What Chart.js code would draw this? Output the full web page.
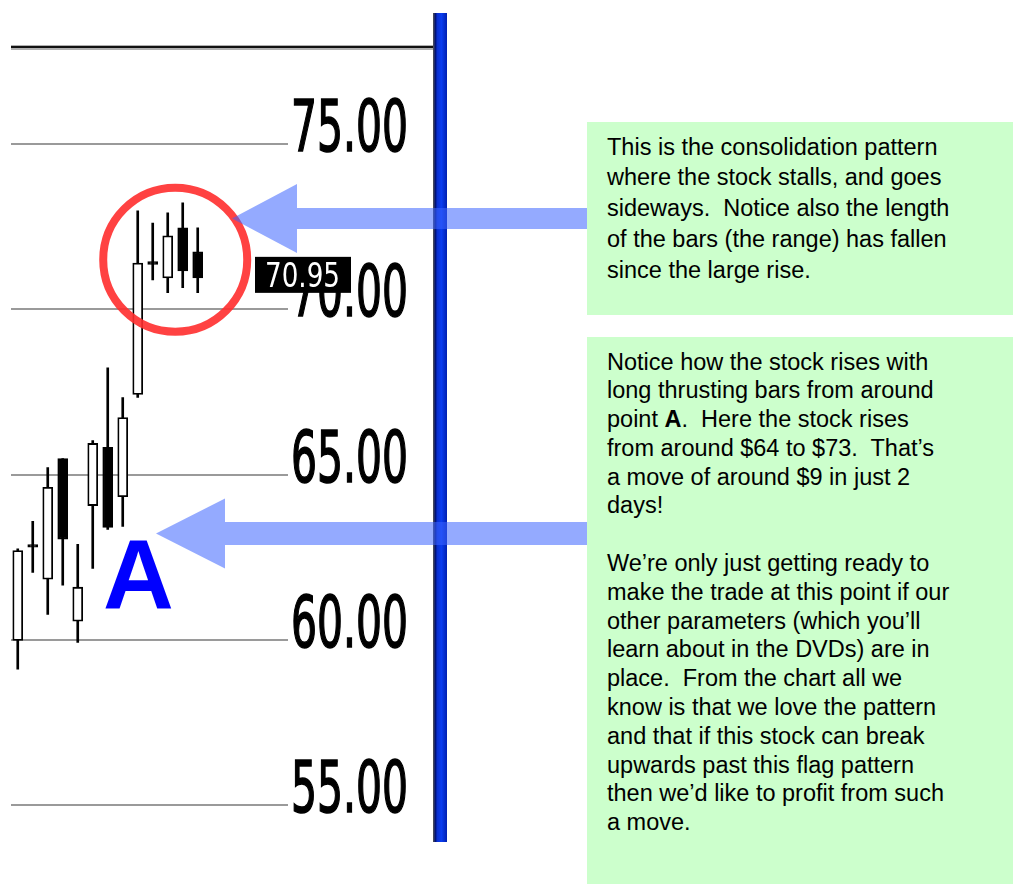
<!DOCTYPE html>
<html>
<head>
<meta charset="utf-8">
<script src="https://cdn.jsdelivr.net/npm/chart.js@4/dist/chart.umd.min.js"></script>
<style>
  body { margin: 0; background: #fff; }
  #wrap { position: relative; width: 1013px; height: 884px; overflow: hidden; }
  #chart { position: absolute; left: 0; top: 0; }
  .note {
    position: absolute; background: #ccffcc; color: #000;
    font-family: "Liberation Sans", Arial, sans-serif; font-size: 23.5px;
    white-space: pre; box-sizing: border-box; padding-left: 20px;
  }
  #note1 { left: 587px; top: 122px; width: 426px; height: 193px; line-height: 30.8px; padding-top: 9.5px; }
  #note2 { left: 587px; top: 337px; width: 426px; height: 547px; line-height: 28.8px; padding-top: 10.5px; }
  #pointA {
    position: absolute; left: 103px; top: 525px; color: #0000ff;
    font-family: "Liberation Sans", Arial, sans-serif; font-weight: bold;
    font-size: 98px; line-height: 1;
  }
</style>
</head>
<body>
<div id="wrap">
  <canvas id="chart" width="1013" height="884"></canvas>
  <div id="pointA">A</div>
  <div class="note" id="note1">This is the consolidation pattern
where the stock stalls, and goes
sideways.  Notice also the length
of the bars (the range) has fallen
since the large rise.</div>
  <div class="note" id="note2">Notice how the stock rises with
long thrusting bars from around
point <b>A</b>.  Here the stock rises
from around $64 to $73.  That’s
a move of around $9 in just 2
days!

We’re only just getting ready to
make the trade at this point if our
other parameters (which you’ll
learn about in the DVDs) are in
place.  From the chart all we
know is that we love the pattern
and that if this stock can break
upwards past this flag pattern
then we’d like to profit from such
a move.</div>
</div>
<script>
// daily bars
const sessions = [1, 2, 3, 4, 5, 6, 7, 8, 9, 10, 11, 12, 13];
const opens  = [59.98, 62.88, 61.83, 65.48, 60.56, 64.06, 65.82, 64.33, 67.42, 71.44, 70.95, 72.46, 71.74];
const closes = [62.70, 62.80, 64.61, 63.04, 61.59, 65.94, 63.40, 66.72, 71.40, 71.36, 72.22, 71.16, 70.95];
const highs  = [62.75, 63.58, 65.21, 65.48, 62.89, 66.03, 68.23, 67.33, 72.98, 72.61, 72.92, 73.22, 72.46];
const lows   = [59.11, 62.04, 60.77, 61.65, 59.92, 62.16, 63.34, 63.43, 67.33, 70.89, 70.50, 70.65, 70.50];
const priceTicks = [55, 60, 65, 70, 75];
const lastPrice = closes[closes.length - 1];

const bodies = sessions.map((s, i) => ({ x: i, y: [opens[i], closes[i]] }));
const wicks = sessions.map((s, i) => ({ x: i, y: [lows[i], highs[i]] }));
const bodyColors = sessions.map((s, i) => closes[i] >= opens[i] ? '#ffffff' : '#000000');

const labelFont = '71px "DejaVu Sans Condensed", "DejaVu Sans"';

// price labels, last price tag, circle and arrows
const overlay = {
  id: 'overlay',
  afterDraw(chart) {
    const ctx = chart.ctx;
    const xs = chart.scales.x;
    const ys = chart.scales.y;

    // top rule
    ctx.save();
    ctx.fillStyle = '#b0b0b0';
    ctx.fillRect(11, 45, 423, 5);
    ctx.fillStyle = '#111';
    ctx.fillRect(11, 46, 423, 2);

    // blue divider
    const g = ctx.createLinearGradient(433, 0, 447, 0);
    g.addColorStop(0, '#555');
    g.addColorStop(0.18, '#00127a');
    g.addColorStop(0.3, '#0a2fd0');
    g.addColorStop(0.6, '#0a3df0');
    g.addColorStop(1, '#0020b0');
    ctx.fillStyle = g;
    ctx.fillRect(433, 13, 14, 829);

    // axis labels, squeezed like the original
    ctx.fillStyle = '#000';
    ctx.strokeStyle = '#000';
    ctx.lineWidth = 1.6;
    ctx.font = labelFont;
    ctx.textBaseline = 'alphabetic';
    ys.ticks.forEach(t => {
      const label = t.value.toFixed(2);
      const sx = 117 / ctx.measureText(label).width;
      ctx.save();
      ctx.translate(291, ys.getPixelForValue(t.value) + 7);
      ctx.scale(sx, 1);
      ctx.fillText(label, 0, 0);
      ctx.strokeText(label, 0, 0);
      ctx.restore();
    });

    // last price tag
    const py = ys.getPixelForValue(lastPrice);
    ctx.fillStyle = '#000';
    ctx.fillRect(255, py - 21, 96, 36);
    ctx.fillStyle = '#fff';
    ctx.font = '33px "DejaVu Sans Condensed", "DejaVu Sans"';
    const tag = lastPrice.toFixed(2);
    const tx = 75 / ctx.measureText(tag).width;
    ctx.save();
    ctx.translate(265, py + 9);
    ctx.scale(tx, 1);
    ctx.fillText(tag, 0, 0);
    ctx.restore();

    // circle round the flag
    ctx.strokeStyle = 'rgba(255, 45, 45, 0.9)';
    ctx.lineWidth = 8;
    ctx.beginPath();
    ctx.arc(xs.getPixelForValue(10.5), ys.getPixelForValue(71.5), 72, 0, Math.PI * 2);
    ctx.stroke();

    // arrows
    ctx.fillStyle = 'rgba(60, 100, 255, 0.55)';
    const arrow = (tipX, tipY, headX, headH, shaftH, endX) => {
      ctx.beginPath();
      ctx.moveTo(tipX, tipY);
      ctx.lineTo(headX, tipY - headH);
      ctx.lineTo(headX, tipY - shaftH);
      ctx.lineTo(endX, tipY - shaftH);
      ctx.lineTo(endX, tipY + shaftH);
      ctx.lineTo(headX, tipY + shaftH);
      ctx.lineTo(headX, tipY + headH);
      ctx.closePath();
      ctx.fill();
    };
    arrow(232, 218.5, 297, 34.5, 10.5, 588);
    arrow(156, 533.5, 225, 35, 11.5, 588);
    ctx.restore();
  }
};

new Chart(document.getElementById('chart'), {
  type: 'bar',
  data: {
    labels: sessions,
    datasets: [
      {
        label: 'Body',
        data: bodies,
        backgroundColor: bodyColors,
        borderColor: '#000',
        borderWidth: 1.8,
        borderSkipped: false,
        barThickness: 10,
        grouped: false
      },
      {
        label: 'Range',
        data: wicks,
        backgroundColor: '#000',
        borderWidth: 0,
        barThickness: 2,
        grouped: false
      }
    ]
  },
  options: {
    responsive: false,
    animation: false,
    layout: { padding: { left: 11, right: 725, top: 44.85, bottom: 12.9 } },
    plugins: { legend: { display: false }, tooltip: { enabled: false } },
    scales: {
      x: { type: 'linear', min: -0.45, max: 18.02, offset: false, display: false },
      y: {
        position: 'right',
        min: 53,
        max: 78,
        ticks: { display: false },
        grid: { color: '#9a9a9a', lineWidth: 2, drawTicks: false },
        border: { display: false },
        afterBuildTicks(scale) { scale.ticks = priceTicks.map(v => ({ value: v })); },
        afterFit(scale) { scale.width = 0; }
      }
    }
  },
  plugins: [overlay]
});
</script>
</body>
</html>
